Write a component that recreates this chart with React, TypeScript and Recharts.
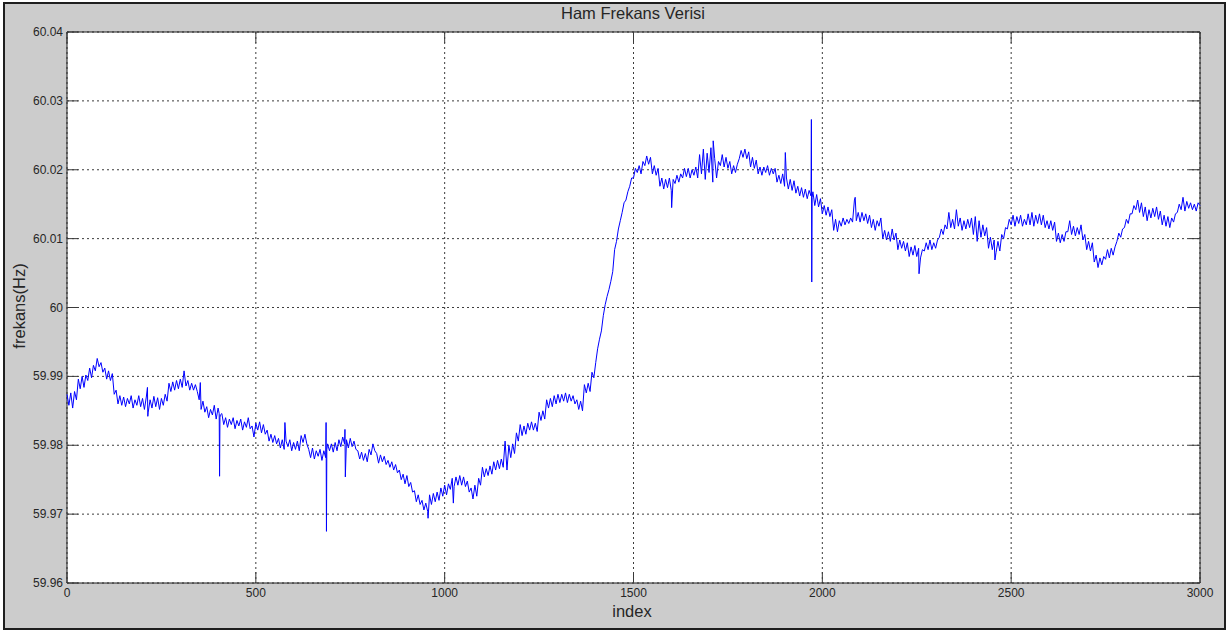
import React from 'react';
import { LineChart, Line, XAxis, YAxis, CartesianGrid, ReferenceArea } from 'recharts';

// Raw grid-frequency record, index 0..3000.
// Stored as mHz offset from 60 Hz, one reading every STEP indices (20 per row = 100 indices).
const STEP = 5;
const FREQ_MHZ: number[] = [
  -12.6, -14.2, -12.4, -14.6, -12.2, -13.4, -10.4, -11.8, -10.0, -11.6, -9.8, -10.6, -8.8, -10.2, -8.4, -9.2, -7.4, -8.6, -8.0, -9.4,
  -8.8, -10.4, -9.2, -10.6, -9.6, -12.6, -12.0, -14.0, -12.8, -14.2, -13.0, -14.4, -13.2, -14.0, -12.8, -14.6, -13.4, -14.2, -12.8, -14.4,
  -13.2, -14.8, -13.0, -15.2, -13.4, -14.6, -12.9, -14.4, -13.1, -14.8, -13.2, -14.2, -12.6, -13.6, -11.0, -12.2, -10.8, -12.0, -10.6, -11.8,
  -10.4, -11.6, -9.2, -11.4, -10.6, -12.0, -11.0, -12.0, -11.2, -12.2, -13.4, -14.8, -13.6, -15.2, -14.4, -16.0, -14.8, -15.6, -14.2, -16.2,
  -14.6, -16.0, -15.4, -17.0, -16.0, -17.4, -16.2, -17.0, -16.0, -17.6, -16.4, -17.2, -16.2, -17.8, -16.6, -17.4, -16.0, -17.6, -17.2, -18.8,
  -16.8, -17.8, -16.6, -18.2, -17.0, -18.4, -17.8, -19.4, -18.4, -19.6, -18.6, -19.8, -19.0, -20.4, -19.2, -20.6, -19.4, -20.2, -19.2, -20.8,
  -19.6, -20.6, -19.4, -20.8, -18.6, -19.6, -18.4, -19.8, -20.6, -21.8, -20.4, -22.0, -20.8, -21.6, -20.6, -22.2, -20.8, -21.8, -19.8, -20.8,
  -19.8, -21.0, -19.6, -20.8, -19.2, -20.2, -18.8, -19.8, -19.2, -20.4, -19.0, -20.2, -19.4, -20.6, -20.8, -22.0, -21.0, -22.2, -21.2, -22.4,
  -20.6, -21.4, -19.8, -20.8, -21.2, -22.6, -21.4, -22.4, -21.6, -22.8, -22.2, -23.2, -22.4, -23.6, -22.8, -24.0, -23.6, -25.0, -24.2, -25.6,
  -24.4, -26.0, -25.4, -26.8, -26.6, -28.2, -27.2, -28.6, -28.0, -29.4, -28.4, -29.6, -27.2, -28.6, -27.0, -28.2, -26.8, -28.0, -26.2, -27.4,
  -25.8, -27.2, -25.6, -26.4, -24.8, -26.0, -24.6, -25.8, -24.4, -25.8, -24.6, -26.0, -25.2, -26.8, -26.2, -27.8, -25.8, -27.4, -24.8, -25.8,
  -23.2, -24.6, -23.4, -24.4, -23.0, -24.2, -22.4, -23.6, -22.2, -23.4, -22.0, -23.2, -19.4, -23.6, -20.0, -21.8, -19.8, -21.2, -18.2, -19.4,
  -17.0, -18.6, -17.2, -18.4, -16.8, -17.8, -16.6, -17.8, -16.8, -18.0, -15.2, -16.4, -15.0, -16.2, -13.4, -14.6, -13.2, -14.4, -12.8, -14.0,
  -12.6, -13.8, -12.6, -13.6, -12.4, -13.8, -12.6, -13.6, -12.8, -14.0, -13.4, -14.8, -13.6, -15.0, -11.2, -12.4, -11.0, -12.2, -9.4, -10.2,
  -8.0, -6.0, -4.6, -3.4, -1.2, 0.4, 1.6, 2.6, 3.8, 5.2, 8.4, 9.6, 11.4, 12.6, 13.8, 15.2, 15.6, 16.8, 17.6, 18.8,
  18.8, 20.2, 19.6, 20.6, 19.4, 21.2, 20.6, 22.0, 20.8, 21.8, 19.4, 20.6, 19.2, 20.2, 17.6, 18.8, 17.2, 18.6, 17.4, 18.8,
  17.0, 18.6, 18.0, 19.2, 18.2, 19.4, 18.8, 20.2, 19.0, 20.2, 18.8, 20.0, 19.2, 20.4, 18.8, 22.2, 19.4, 23.0, 18.6, 22.4,
  19.6, 23.2, 18.2, 21.6, 18.8, 21.2, 20.6, 22.2, 20.4, 21.8, 20.2, 21.2, 19.4, 20.6, 19.6, 20.8, 21.6, 22.8, 21.8, 23.0,
  21.6, 22.6, 20.4, 21.8, 20.2, 21.4, 19.4, 20.4, 19.2, 20.4, 19.6, 20.6, 19.2, 20.2, 19.4, 20.2, 18.2, 19.2, 18.0, 19.4,
  17.6, 18.8, 17.2, 18.6, 17.0, 18.4, 16.6, 17.6, 16.2, 17.4, 16.0, 17.2, 15.8, 17.0, 16.2, 16.8, 14.8, 16.4, 14.6, 15.8,
  13.6, 14.8, 13.4, 14.6, 13.2, 14.2, 11.2, 12.8, 11.0, 12.6, 11.8, 13.0, 12.0, 12.8, 12.2, 13.0, 12.4, 15.6, 12.6, 13.8,
  12.4, 13.8, 12.6, 13.6, 12.2, 13.4, 11.6, 12.8, 11.2, 12.6, 11.8, 13.0, 10.0, 11.2, 9.8, 11.0, 9.6, 11.4, 9.8, 10.8,
  8.4, 9.8, 8.6, 9.6, 8.2, 9.4, 7.4, 8.8, 7.6, 9.0, 7.4, 8.6, 7.2, 8.4, 8.2, 9.4, 8.4, 9.8, 8.4, 9.4,
  8.6, 9.8, 10.2, 11.4, 10.6, 12.0, 11.4, 13.8, 11.6, 12.8, 11.4, 14.2, 11.8, 13.0, 11.2, 12.6, 11.4, 12.8, 11.6, 13.0,
  10.6, 13.2, 9.6, 12.6, 10.2, 12.0, 10.4, 11.6, 8.6, 10.2, 8.4, 9.8, 8.0, 9.6, 8.2, 10.6, 10.0, 11.6, 11.4, 12.8,
  12.0, 13.4, 11.8, 13.2, 12.2, 13.4, 11.8, 12.8, 12.0, 13.6, 12.0, 13.8, 11.8, 13.4, 12.2, 13.6, 12.0, 13.4, 11.6, 12.6,
  11.4, 12.6, 11.2, 12.4, 9.6, 10.8, 9.4, 10.6, 9.6, 11.0, 11.0, 12.6, 10.6, 11.8, 10.4, 11.6, 10.6, 12.0, 9.8, 10.6,
  8.4, 9.6, 8.2, 9.4, 6.6, 7.6, 5.8, 7.2, 6.2, 7.4, 7.0, 8.4, 7.2, 8.6, 7.6, 8.8, 9.6, 10.8, 10.2, 11.4,
  11.6, 12.8, 12.2, 13.6, 13.6, 14.8, 14.2, 15.6, 13.8, 15.2, 13.2, 14.6, 12.6, 14.2, 13.0, 14.4, 13.2, 14.6, 12.8, 14.0,
  12.0, 13.4, 11.8, 13.2, 11.6, 13.0, 12.4, 13.6, 13.8, 15.0, 14.2, 16.0, 14.0, 15.4, 14.4, 15.2, 14.2, 15.0, 14.0, 15.2,
  14.8,
];

// Single-sample glitches between the regular readings: [index, mHz offset]
const SPIKES: [number, number][] = [
  [213, -11.6], [214, -15.8],
  [353, -10.9],
  [403, -15.4], [404, -24.5], [406, -15.6],
  [577, -16.7],
  [686, -16.7], [687, -32.5], [688, -20.6],
  [736, -17.7], [737, -24.6],
  [956, -30.6],
  [1023, -28.4],
  [1601, 14.5],
  [1711, 24.2],
  [1902, 22.5],
  [1971, 27.3], [1972, 3.7], [1973, 16.0],
  [2087, 16.0],
  [2256, 4.9],
  [2457, 6.9],
];

const X_TICKS = [0, 500, 1000, 1500, 2000, 2500, 3000];
const Y_TICKS = [59.96, 59.97, 59.98, 59.99, 60, 60.01, 60.02, 60.03, 60.04];

const TITLE = 'Ham Frekans Verisi';
const X_LABEL = 'index';
const Y_LABEL = 'frekans(Hz)';

const W = 1228;
const H = 631;
const PLOT = { left: 67, top: 32, right: 1200, bottom: 583 };
const TICK_LEN = 11;
const FONT = 'Arial, "Liberation Sans", Helvetica, sans-serif';
const TEXT = '#262626';
const TICK_COLOR = '#3a3a3a';

const toHz = (mhz: number) => 60 + mhz / 1000;
const fmtY = (v: number) => String(Number(v.toFixed(2)));

const data = [
  ...FREQ_MHZ.map((d, i) => ({ index: i * STEP, hz: toHz(d) })),
  ...SPIKES.map(([index, d]) => ({ index, hz: toHz(d) })),
].sort((a, b) => a.index - b.index);

// MATLAB style: ticks point inward, on both opposite edges
const XTick = (props: any) => {
  const { x, y, payload } = props;
  return (
    <g>
      <line x1={x} y1={PLOT.bottom} x2={x} y2={PLOT.bottom - TICK_LEN} stroke={TICK_COLOR} />
      <line x1={x} y1={PLOT.top} x2={x} y2={PLOT.top + TICK_LEN} stroke={TICK_COLOR} />
      <text x={x} y={y + 14} textAnchor="middle" fontSize={12} fontFamily={FONT} fill={TEXT}>
        {payload.value}
      </text>
    </g>
  );
};

const YTick = (props: any) => {
  const { x, y, payload } = props;
  return (
    <g>
      <line x1={PLOT.left} y1={y} x2={PLOT.left + TICK_LEN} y2={y} stroke={TICK_COLOR} />
      <line x1={PLOT.right} y1={y} x2={PLOT.right - TICK_LEN} y2={y} stroke={TICK_COLOR} />
      <text x={x - 4} y={y + 4} textAnchor="end" fontSize={12} fontFamily={FONT} fill={TEXT}>
        {fmtY(payload.value)}
      </text>
    </g>
  );
};

export default function App() {
  return (
    <div style={{ position: 'absolute', left: 0, top: 0, width: W, height: H, background: '#fff' }}>
      {/* figure window frame */}
      <div
        style={{
          position: 'absolute',
          left: 3,
          top: 2,
          width: 1219,
          height: 624,
          background: '#cccccc',
          border: '2px solid #1e1e1e',
        }}
      />
      <div style={{ position: 'absolute', left: 0, top: 0 }}>
        <LineChart width={W} height={H} data={data} margin={{ top: PLOT.top, right: W - PLOT.right, left: 0, bottom: 0 }}>
          <CartesianGrid fill="#ffffff" stroke="#3c3c3c" strokeDasharray="2 3" />
          <XAxis
            type="number"
            dataKey="index"
            domain={[0, 3000]}
            ticks={X_TICKS}
            interval={0}
            height={H - PLOT.bottom}
            axisLine={false}
            tickLine={false}
            tickSize={0}
            tickMargin={0}
            tick={<XTick />}
          />
          <YAxis
            type="number"
            domain={[59.96, 60.04]}
            ticks={Y_TICKS}
            interval={0}
            width={PLOT.left}
            axisLine={false}
            tickLine={false}
            tickSize={0}
            tickMargin={0}
            tick={<YTick />}
            allowDataOverflow
          />
          <ReferenceArea x1={0} x2={3000} y1={59.96} y2={60.04} fill="none" stroke="#1e1e1e" strokeWidth={1} />
          <Line
            type="linear"
            dataKey="hz"
            stroke="#0000ff"
            strokeWidth={1}
            dot={false}
            isAnimationActive={false}
          />
        </LineChart>
      </div>
      <svg width={W} height={H} style={{ position: 'absolute', left: 0, top: 0, pointerEvents: 'none' }}>
        <text x={633} y={19} textAnchor="middle" fontSize={16.5} fontFamily={FONT} fill={TEXT}>
          {TITLE}
        </text>
        <text x={632} y={617} textAnchor="middle" fontSize={16.5} fontFamily={FONT} fill={TEXT}>
          {X_LABEL}
        </text>
        <text
          x={0}
          y={0}
          transform="translate(25, 306) rotate(-90)"
          textAnchor="middle"
          fontSize={16.5}
          fontFamily={FONT}
          fill={TEXT}
        >
          {Y_LABEL}
        </text>
      </svg>
    </div>
  );
}
